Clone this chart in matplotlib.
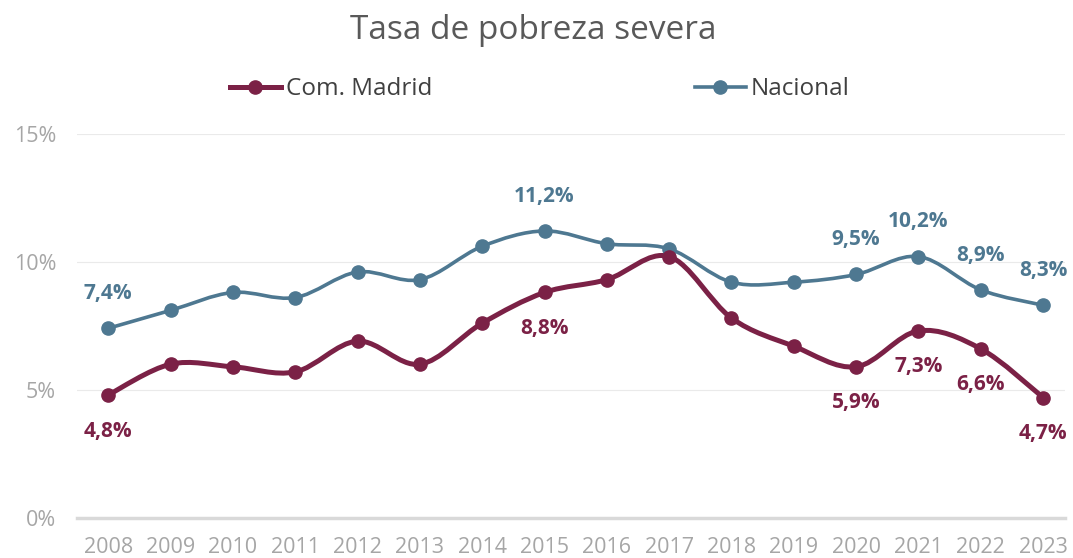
import numpy as np
import matplotlib.pyplot as plt
from matplotlib.path import Path
from matplotlib.patches import PathPatch
from matplotlib.lines import Line2D

plt.rcParams['font.family'] = ['Open Sans', 'DejaVu Sans']

years = list(range(2008, 2024))
madrid = [4.8, 6.0, 5.9, 5.7, 6.9, 6.0, 7.6, 8.8, 9.3, 10.2, 7.8, 6.7, 5.9, 7.3, 6.6, 4.7]
nacional = [7.4, 8.1, 8.8, 8.6, 9.6, 9.3, 10.6, 11.2, 10.7, 10.5, 9.2, 9.2, 9.5, 10.2, 8.9, 8.3]
labeled_years = [2008, 2015, 2020, 2021, 2022, 2023]
yticks = [0, 5, 10, 15]

c_madrid = '#7B2146'
c_nacional = '#4E7891'


def smooth_path(x, y):
    # bezier segments like excel's "smoothed line"
    x = np.asarray(x, float)
    y = np.asarray(y, float)
    n = len(x)
    verts = [(x[0], y[0])]
    codes = [Path.MOVETO]
    for i in range(n - 1):
        i0 = max(i - 1, 0)
        i3 = min(i + 2, n - 1)
        c1 = (x[i] + (x[i + 1] - x[i0]) / 6, y[i] + (y[i + 1] - y[i0]) / 6)
        c2 = (x[i + 1] - (x[i3] - x[i]) / 6, y[i + 1] - (y[i3] - y[i]) / 6)
        verts += [c1, c2, (x[i + 1], y[i + 1])]
        codes += [Path.CURVE4] * 3
    return Path(verts, codes)


fig = plt.figure(figsize=(10.73, 5.58), dpi=100)
ax = fig.add_axes([0.0718, 0.0717, 0.9207, 0.689])

for vals, col, lw in [(nacional, c_nacional, 2.6), (madrid, c_madrid, 3.6)]:
    ax.add_patch(PathPatch(smooth_path(years, vals), facecolor='none', edgecolor=col,
                           lw=lw, capstyle='round', joinstyle='round', zorder=3))
    ax.plot(years, vals, 'o', color=col, markersize=9.5, zorder=4)

for yr, v in zip(years, nacional):
    if yr in labeled_years:
        ax.annotate(f'{v:.1f}%'.replace('.', ','), (yr, v), xytext=(0, 25), textcoords='offset points',
                    ha='center', va='center', fontsize=15, fontweight='bold', color=c_nacional)
for yr, v in zip(years, madrid):
    if yr in labeled_years:
        ax.annotate(f'{v:.1f}%'.replace('.', ','), (yr, v), xytext=(0, -26), textcoords='offset points',
                    ha='center', va='center', fontsize=15, fontweight='bold', color=c_madrid)

ax.set_xlim(2007.5, 2023.35)
ax.set_ylim(0, 15)
ax.set_xticks(years)
ax.set_xticklabels([str(y) for y in years])
ax.set_yticks(yticks)
ax.set_yticklabels([f'{t}%' for t in yticks])
ax.tick_params(axis='both', length=0, labelsize=15.5, labelcolor='#A6A6A6')
ax.tick_params(axis='x', pad=14)
ax.tick_params(axis='y', pad=15)
for s in ['top', 'right', 'left']:
    ax.spines[s].set_visible(False)
ax.spines['bottom'].set_color('#D9D9D9')
ax.spines['bottom'].set_linewidth(2.5)
ax.grid(axis='y', color='#EAEAEA', lw=0.8)
ax.set_axisbelow(True)

fig.text(0.497, 0.946, 'Tasa de pobreza severa', ha='center', va='center', fontsize=24, color='#595959')

handles = [Line2D([], [], color=c_madrid, lw=3.6, marker='o', markersize=9.5),
           Line2D([], [], color=c_nacional, lw=2.6, marker='o', markersize=9.5)]
fig.legend(handles, ['Com. Madrid', 'Nacional'], loc='center', bbox_to_anchor=(0.503, 0.84), ncol=2,
           frameon=False, fontsize=17.5, labelcolor='#404040', handlelength=2.1, handletextpad=0.2,
           columnspacing=10.8)

fig.savefig('out.png', dpi=100)
